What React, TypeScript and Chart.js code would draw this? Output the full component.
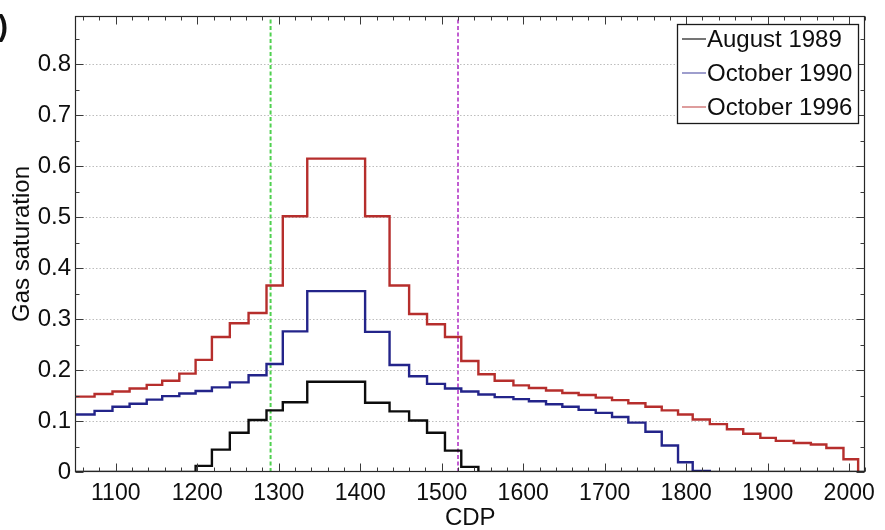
import React, { useEffect, useRef } from 'react';
import { Chart, registerables } from 'chart.js';

Chart.register(...registerables);

// Step edges (CDP) shared by all three surveys; each value holds from its edge to the next one.
const cdpEdges = [
  1050, 1074, 1096, 1117, 1138, 1157, 1178, 1198, 1218, 1240,
  1263, 1285, 1305, 1335, 1406, 1436, 1460, 1482, 1504, 1524,
  1545, 1565, 1588, 1607, 1628, 1648, 1668, 1689, 1709, 1729,
  1750, 1770, 1790, 1808, 1829, 1850, 1870, 1891, 1910, 1932,
  1953, 1972, 1993, 2011, 2020,
];

const aug1989 = [
  0, 0, 0, 0, 0, 0, 0, 0.012, 0.044, 0.077,
  0.102, 0.121, 0.137, 0.177, 0.136, 0.119, 0.101, 0.077, 0.042, 0.010,
  0, 0, 0, 0, 0, 0, 0, 0, 0, 0,
  0, 0, 0, 0, 0, 0, 0, 0, 0, 0,
  0, 0, 0, 0, 0,
];

const oct1990 = [
  0.113, 0.120, 0.128, 0.134, 0.142, 0.149, 0.154, 0.159, 0.166, 0.176,
  0.190, 0.212, 0.276, 0.355, 0.275, 0.210, 0.188, 0.173, 0.164, 0.158,
  0.152, 0.147, 0.143, 0.139, 0.133, 0.128, 0.122, 0.116, 0.108, 0.097,
  0.079, 0.052, 0.019, 0.002, 0, null, null, null, null, null,
  null, null, null, null, null,
];

const oct1996 = [
  0.148, 0.153, 0.158, 0.164, 0.171, 0.179, 0.193, 0.220, 0.265, 0.292,
  0.312, 0.366, 0.502, 0.615, 0.502, 0.366, 0.310, 0.290, 0.265, 0.218,
  0.192, 0.179, 0.170, 0.165, 0.160, 0.155, 0.151, 0.146, 0.141, 0.135,
  0.128, 0.121, 0.113, 0.103, 0.094, 0.084, 0.075, 0.067, 0.061, 0.057,
  0.054, 0.047, 0.025, 0, null,
];

const seriesLabels = ['August 1989', 'October 1990', 'October 1996'];
const markerCdps = [1290, 1520];
const xTickValues = [1100, 1200, 1300, 1400, 1500, 1600, 1700, 1800, 1900, 2000];
const yTickValues = [0, 0.1, 0.2, 0.3, 0.4, 0.5, 0.6, 0.7, 0.8];
const xRange = [1050, 2020];
const yRange = [0, 0.895];

const FONT = '"Liberation Sans", Arial, Helvetica, sans-serif';
const TEXT = '#0e0e0e';
const seriesColors = ['#0c0c0c', '#23248a', '#b62e2c'];
const legendColors = ['#2a2a2a', '#6a6ab2', '#cc6868'];
const markerColors = ['#4fd04f', '#c15dd1'];

const toPoints = (vals: (number | null)[]) =>
  cdpEdges.map((x, i) => ({ x, y: vals[i] }));

const frameTicks = {
  id: 'frameTicks',
  beforeDatasetsDraw(chart: any) {
    const { ctx, chartArea, scales } = chart;
    const { left, right } = chartArea;
    ctx.save();
    ctx.strokeStyle = '#bdbdbd';
    ctx.lineWidth = 1;
    ctx.setLineDash([1.5, 2]);
    for (const v of yTickValues) {
      if (v === 0) continue;
      const py = Math.round(scales.y.getPixelForValue(v)) + 0.5;
      ctx.beginPath();
      ctx.moveTo(left, py);
      ctx.lineTo(right, py);
      ctx.stroke();
    }
    ctx.restore();
  },
  afterDatasetsDraw(chart: any) {
    const { ctx, chartArea, scales } = chart;
    const { left, right, top, bottom } = chartArea;
    const L = Math.round(left) + 0.5;
    const R = Math.round(right) - 0.5;
    const T = Math.round(top) + 0.5;
    const B = Math.round(bottom) - 0.5;
    ctx.save();
    ctx.strokeStyle = '#262626';
    ctx.lineWidth = 1.2;
    ctx.setLineDash([]);
    ctx.strokeRect(L, T, R - L, B - T);
    ctx.strokeStyle = '#3a3a3a';
    ctx.lineWidth = 1;
    for (let v = Math.ceil(xRange[0] / 20) * 20; v <= xRange[1]; v += 20) {
      const major = v % 100 === 0;
      const len = major ? 8 : 4;
      const px = Math.round(scales.x.getPixelForValue(v)) + 0.5;
      ctx.beginPath();
      ctx.moveTo(px, B);
      ctx.lineTo(px, B - len);
      ctx.moveTo(px, T);
      ctx.lineTo(px, T + len);
      ctx.stroke();
    }
    for (let k = 0; k * 0.05 <= yRange[1] + 1e-9; k++) {
      const v = k * 0.05;
      const major = k % 2 === 0;
      const len = major ? 8 : 4;
      const py = Math.round(scales.y.getPixelForValue(v)) + 0.5;
      ctx.beginPath();
      ctx.moveTo(L, py);
      ctx.lineTo(L + len, py);
      ctx.moveTo(R, py);
      ctx.lineTo(R - len, py);
      ctx.stroke();
    }
    ctx.restore();
  },
  afterDraw(chart: any) {
    const { ctx } = chart;
    ctx.save();
    const bx = 677.5, by = 24.5, bw = 181, bh = 99;
    ctx.fillStyle = '#ffffff';
    ctx.fillRect(bx, by, bw, bh);
    ctx.strokeStyle = '#1a1a1a';
    ctx.lineWidth = 1.3;
    ctx.strokeRect(bx, by, bw, bh);
    ctx.font = `24px ${FONT}`;
    ctx.textBaseline = 'middle';
    ctx.textAlign = 'left';
    const rows = [39, 73, 107];
    chart.data.datasets.forEach((ds: any, i: number) => {
      if (i >= seriesLabels.length) return;
      const yy = rows[i];
      ctx.strokeStyle = legendColors[i];
      ctx.lineWidth = 1.3;
      ctx.beginPath();
      ctx.moveTo(682, yy);
      ctx.lineTo(706, yy);
      ctx.stroke();
      ctx.fillStyle = TEXT;
      ctx.fillText(ds.label, 707, yy + 1);
    });
    ctx.font = `bold 30px ${FONT}`;
    ctx.fillStyle = '#111';
    ctx.fillText(')', -2, 28);
    ctx.restore();
  },
};

export default function App() {
  const ref = useRef<HTMLCanvasElement | null>(null);

  useEffect(() => {
    if (!ref.current) return;
    const seriesData = [aug1989, oct1990, oct1996];
    const datasets: any[] = seriesData.map((vals, i) => ({
      label: seriesLabels[i],
      data: toPoints(vals),
      borderColor: seriesColors[i],
      borderWidth: 2.4,
      pointRadius: 0,
      stepped: true,
      fill: false,
      spanGaps: false,
    }));
    markerCdps.forEach((c, i) => {
      datasets.push({
        data: [
          { x: c, y: yRange[0] },
          { x: c, y: yRange[1] },
        ],
        borderColor: markerColors[i],
        borderWidth: 2,
        borderDash: [4, 2.5],
        pointRadius: 0,
        fill: false,
      });
    });

    const chart = new Chart(ref.current, {
      type: 'line',
      data: { datasets },
      plugins: [frameTicks],
      options: {
        animation: false,
        responsive: false,
        maintainAspectRatio: false,
        layout: { padding: { top: 8, right: 12, left: 0, bottom: 0 } },
        plugins: { legend: { display: false }, tooltip: { enabled: false } },
        scales: {
          x: {
            type: 'linear',
            min: xRange[0],
            max: xRange[1],
            grid: { display: false, drawTicks: false },
            border: { display: false },
            afterBuildTicks: (s: any) => {
              s.ticks = xTickValues.map((v) => ({ value: v }));
            },
            afterFit: (s: any) => {
              s.height = 58;
            },
            ticks: {
              callback: (v: any) => String(v),
              font: { family: FONT, size: 23, lineHeight: 1 },
              color: TEXT,
              padding: 10,
              maxRotation: 0,
              autoSkip: false,
            },
            title: {
              display: true,
              text: 'CDP',
              font: { family: FONT, size: 24, lineHeight: 1 },
              color: TEXT,
              padding: { top: 0, bottom: 0 },
            },
          },
          y: {
            type: 'linear',
            min: yRange[0],
            max: yRange[1],
            grid: { display: false, drawTicks: false },
            border: { display: false },
            afterBuildTicks: (s: any) => {
              s.ticks = yTickValues.map((v) => ({ value: v }));
            },
            afterFit: (s: any) => {
              s.width = 75;
            },
            ticks: {
              callback: (v: any) => String(v),
              font: { family: FONT, size: 24, lineHeight: 1 },
              color: TEXT,
              padding: 4,
              autoSkip: false,
            },
            title: {
              display: true,
              text: 'Gas saturation',
              font: { family: FONT, size: 24, lineHeight: 1 },
              color: TEXT,
              padding: { top: 10, bottom: 0 },
            },
          },
        },
      },
    });
    return () => chart.destroy();
  }, []);

  return (
    <div style={{ position: 'absolute', left: 0, top: 0, width: 885, height: 530, background: '#fff' }}>
      <canvas ref={ref} width={885} height={530} style={{ display: 'block' }} />
    </div>
  );
}
